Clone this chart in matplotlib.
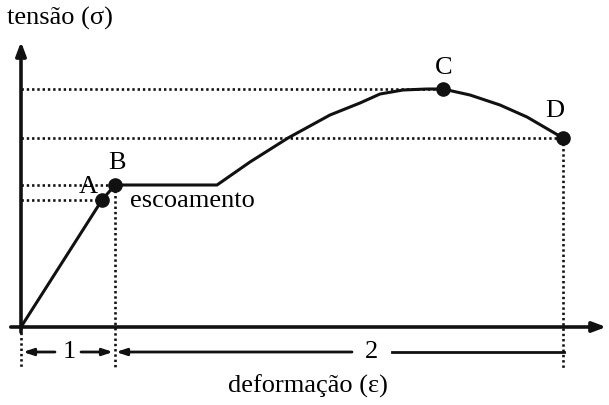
import matplotlib.pyplot as plt

plt.rcParams['font.family'] = ['Liberation Serif', 'DejaVu Serif']

# stress-strain curve (arbitrary units, origin at 0,0)
strain = [0, 81, 94, 196, 229, 267, 309, 339, 359, 382, 406, 422, 449, 479, 506, 542]
stress = [0, 127, 142, 142, 165, 189, 212, 224, 233, 237, 238, 238, 232, 222, 210, 189]

# labelled points
pt_names = ['A', 'B', 'C', 'D']
pt_strain = [81, 94, 422, 542]
pt_stress = [127, 142, 238, 189]

fig = plt.figure(figsize=(6.09, 4.05), dpi=100)
ax = fig.add_axes([0, 0, 1, 1])
ax.set_xlim(-21, 588)
ax.set_ylim(-78, 327)
ax.axis('off')

k = '#111111'
dots = (0, (0.9, 1.1))

# axes arrows
ax.annotate('', xy=(588, 0), xytext=(-13, 0),
            arrowprops=dict(arrowstyle='-|>,head_length=0.8,head_width=0.3', lw=2.6, color=k))
ax.annotate('', xy=(0, 288), xytext=(0, -8),
            arrowprops=dict(arrowstyle='-|>,head_length=0.8,head_width=0.3', lw=2.6, color=k))

# dotted guide lines
for s, t in zip(pt_strain, pt_stress):
    ax.plot([0, s], [t, t], ls=dots, lw=1.9, color=k)
ax.plot([94, 94], [142, -42], ls=dots, lw=1.9, color=k)
ax.plot([542, 542], [189, -42], ls=dots, lw=1.9, color=k)
ax.plot([0, 0], [0, -42], ls=dots, lw=1.9, color=k)

# curve
ax.plot(strain, stress, color=k, lw=2.2, solid_joinstyle='round')
ax.plot(pt_strain, pt_stress, 'o', color=k, ms=9.5)

# point labels
fs = 19
ax.text(67, 140, 'A', fontsize=fs, ha='center', va='center')
ax.text(96, 164, 'B', fontsize=fs, ha='center', va='center')
ax.text(423, 259, 'C', fontsize=fs, ha='center', va='center')
ax.text(534, 216, 'D', fontsize=fs, ha='center', va='center')
ax.text(171, 126, 'escoamento', fontsize=fs, ha='center', va='center')

# dimension arrows
arr = dict(arrowstyle='-|>,head_length=0.6,head_width=0.2', lw=2, color=k,
           shrinkA=0, shrinkB=0)
ax.annotate('', xy=(2, -25), xytext=(34, -25), arrowprops=arr)
ax.annotate('', xy=(92, -25), xytext=(60, -25), arrowprops=arr)
ax.text(48, -25, '1', fontsize=fs, ha='center', va='center')
ax.annotate('', xy=(95, -25), xytext=(331, -25), arrowprops=arr)
ax.plot([371, 543], [-25, -25], color=k, lw=2)
ax.text(350, -25, '2', fontsize=fs, ha='center', va='center')

ax.text(-14, 309, 'tensão (σ)', fontsize=fs, ha='left', va='center')
ax.text(287, -59, 'deformação (ε)', fontsize=fs, ha='center', va='center')

fig.savefig('out.png', dpi=100)
